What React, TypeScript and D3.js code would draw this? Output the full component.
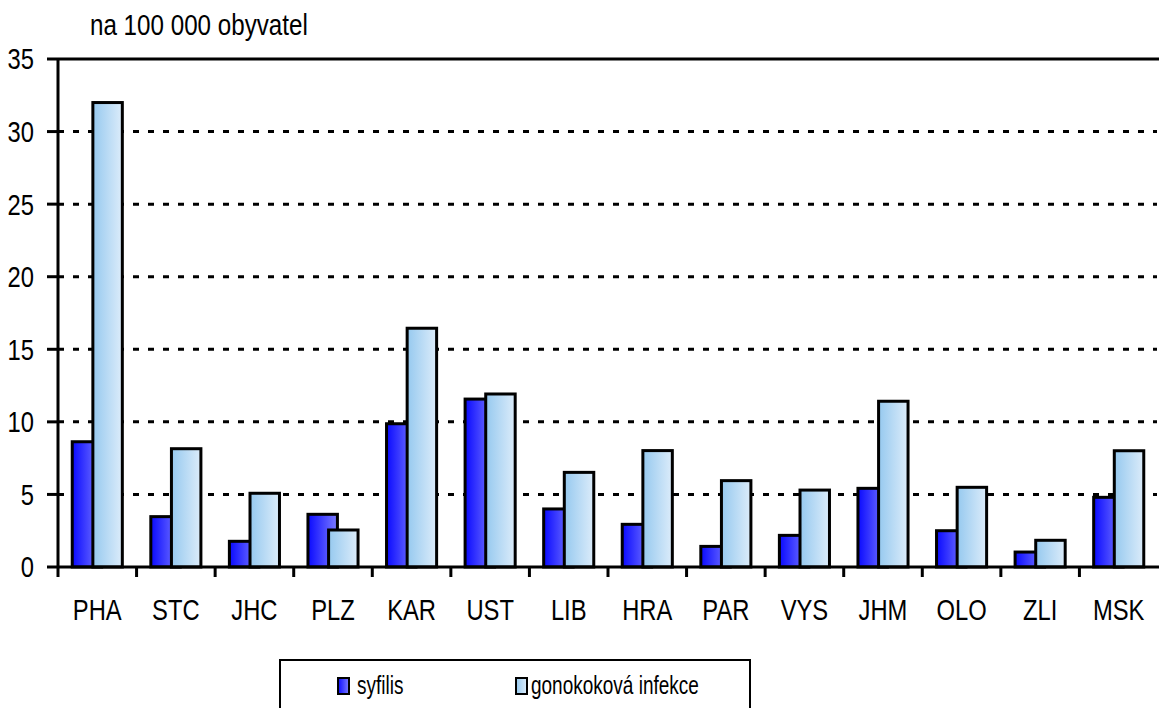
import React from 'react'
import * as d3 from 'd3'

// kraje
const regions = ['PHA', 'STC', 'JHC', 'PLZ', 'KAR', 'UST', 'LIB', 'HRA', 'PAR', 'VYS', 'JHM', 'OLO', 'ZLI', 'MSK']
// na 100 000 obyvatel
const syfilis = [8.63, 3.47, 1.77, 3.63, 9.87, 11.57, 4.0, 2.94, 1.42, 2.18, 5.42, 2.5, 1.03, 4.8]
const gonokokova = [32.0, 8.15, 5.08, 2.55, 16.45, 11.92, 6.52, 8.02, 5.95, 5.3, 11.42, 5.49, 1.84, 8.01]
const yTicks = [0, 5, 10, 15, 20, 25, 30, 35]
const seriesNames = ['syfilis', 'gonokoková infekce']

const W = 1159
const H = 708
const margin = { top: 59, left: 58, right: 1, bottom: 141 }
const FONT = "'Liberation Sans', Arial, sans-serif"

// Arial Narrow neni k dispozici -> zuzime Liberation Sans
const NText = ({ x, y, size = 29, sx = 0.82, anchor = 'start', dy, children }: any) => (
    <text transform={`translate(${x},${y}) scale(${sx},1)`} fontSize={size}
        textAnchor={anchor} dy={dy} fontFamily={FONT}>{children}</text>
)

const App = () => {
    const x = d3.scaleBand<string>()
        .domain(regions)
        .range([margin.left, W - margin.right])
        .padding(0)
    const y = d3.scaleLinear()
        .domain([0, 35])
        .range([H - margin.bottom, margin.top])

    const bw = x.bandwidth()
    const barW = bw * 0.375
    const shift = barW * 0.7
    const groupW = barW + shift
    const y0 = y(0)

    return (
        <svg width={W} height={H} style={{ position: 'absolute', left: 0, top: 0 }}>
            <defs>
                <linearGradient id="gSyf" x1="0" x2="1" y1="0" y2="0">
                    <stop offset="0" stopColor="#0a0aff" />
                    <stop offset="1" stopColor="#7c7cff" />
                </linearGradient>
                <linearGradient id="gGon" x1="0" x2="1" y1="0" y2="0">
                    <stop offset="0" stopColor="#96c9ef" />
                    <stop offset="1" stopColor="#dcecfa" />
                </linearGradient>
            </defs>

            <NText x={90} y={35} size={29.5}>na 100 000 obyvatel</NText>

            {/* mřížka */}
            {yTicks.filter(t => t > 0 && t < 35).map(t => (
                <line key={t} x1={margin.left} x2={W - 2} y1={y(t)} y2={y(t)}
                    stroke="#000" strokeWidth={3} strokeDasharray="6,9" />
            ))}
            <line x1={margin.left} x2={W} y1={y(35)} y2={y(35)} stroke="#000" strokeWidth={3} />

            {/* sloupce */}
            {regions.map((r, i) => {
                const gx = x(r)! + (bw - groupW) / 2
                return (
                    <g key={r}>
                        <rect x={gx} y={y(syfilis[i])} width={barW} height={y0 - y(syfilis[i])}
                            fill="url(#gSyf)" stroke="#000" strokeWidth={3} />
                        <rect x={gx + shift} y={y(gonokokova[i])} width={barW} height={y0 - y(gonokokova[i])}
                            fill="url(#gGon)" stroke="#000" strokeWidth={3} />
                    </g>
                )
            })}

            {/* osa y */}
            <line x1={margin.left} x2={margin.left} y1={y(35)} y2={y0 + 10} stroke="#000" strokeWidth={3} />
            {yTicks.map(t => (
                <g key={t}>
                    <line x1={margin.left - 11} x2={margin.left} y1={y(t)} y2={y(t)} stroke="#000" strokeWidth={3} />
                    <NText x={34} y={y(t)} dy="0.36em" anchor="end">{t}</NText>
                </g>
            ))}

            {/* osa x */}
            <line x1={margin.left} x2={W} y1={y0} y2={y0} stroke="#000" strokeWidth={3} />
            {regions.slice(0, -1).map(r => (
                <line key={r} x1={x(r)! + bw} x2={x(r)! + bw} y1={y0} y2={y0 + 10} stroke="#000" strokeWidth={3} />
            ))}
            {regions.map(r => (
                <NText key={r} x={x(r)! + bw / 2} y={620} anchor="middle">{r}</NText>
            ))}

            {/* legenda */}
            <rect x={280} y={660} width={470} height={60} fill="#fff" stroke="#000" strokeWidth={2} />
            <rect x={338} y={678} width={11} height={16} fill="url(#gSyf)" stroke="#000" strokeWidth={2} />
            <NText x={357} y={694} size={25} sx={0.76}>{seriesNames[0]}</NText>
            <rect x={516} y={678} width={11} height={16} fill="url(#gGon)" stroke="#000" strokeWidth={2} />
            <NText x={531} y={694} size={25} sx={0.76}>{seriesNames[1]}</NText>
        </svg>
    )
}

export default App
